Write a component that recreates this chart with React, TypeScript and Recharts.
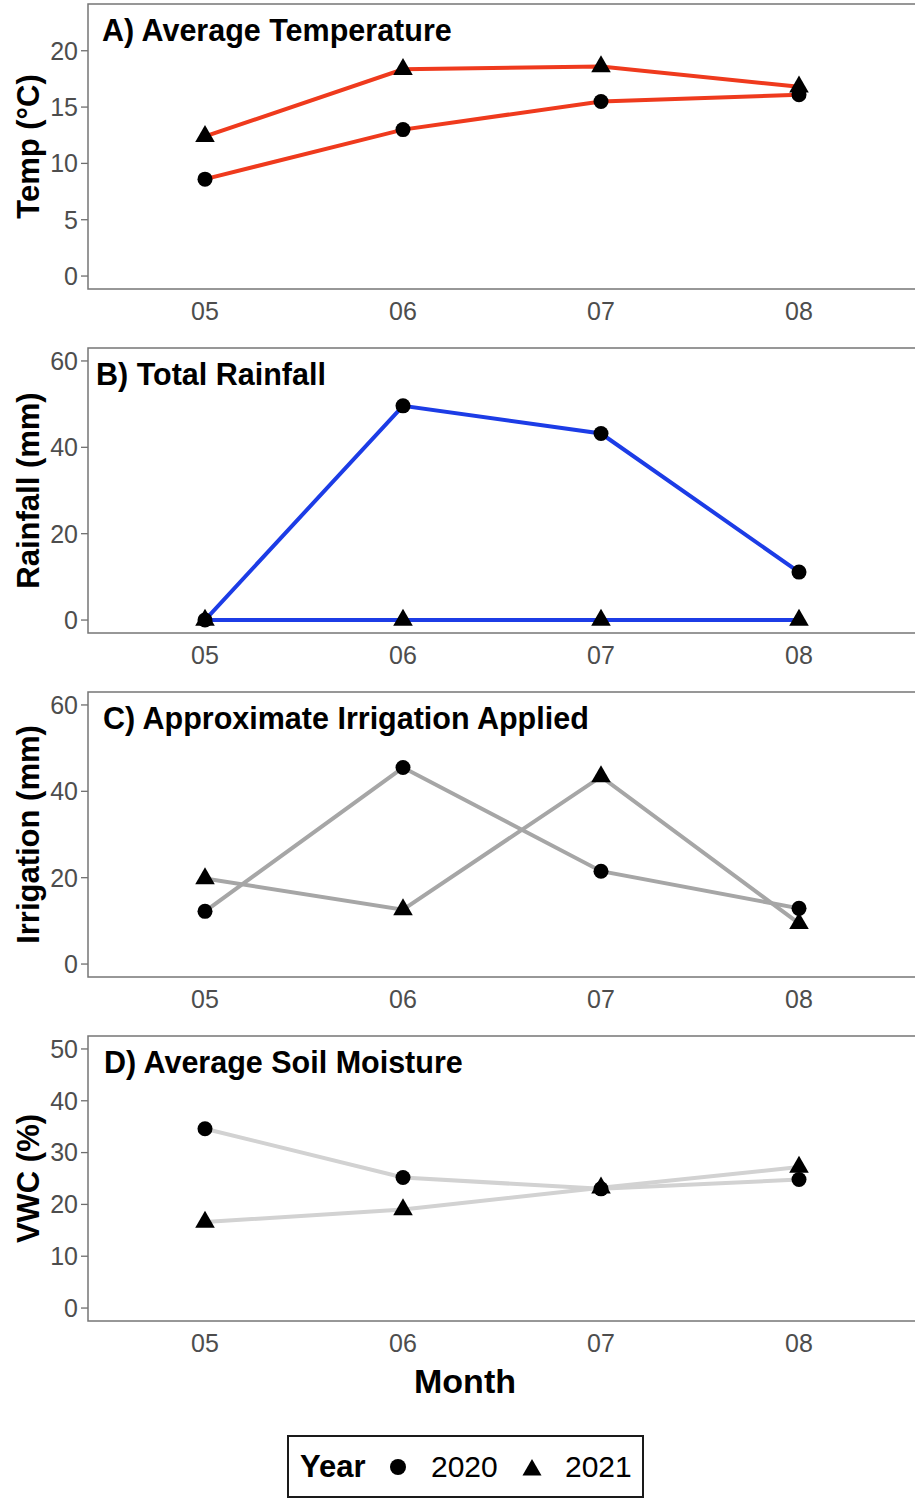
import { LineChart, Line, XAxis, YAxis } from 'recharts';

const MONTHS = ['05', '06', '07', '08'];
const YEARS = ['2020', '2021'];

const TEMP_2020 = [8.6, 13.0, 15.5, 16.1];
const TEMP_2021 = [12.4, 18.35, 18.6, 16.8];
const RAIN_2020 = [0, 49.6, 43.2, 11.1];
const RAIN_2021 = [0, 0, 0, 0];
const IRR_2020 = [12.2, 45.5, 21.5, 12.9];
const IRR_2021 = [19.8, 12.6, 43.4, 9.4];
const VWC_2020 = [34.6, 25.2, 23.0, 24.8];
const VWC_2021 = [16.6, 19.0, 23.2, 27.2];

const FONT = '"Liberation Sans", Arial, Helvetica, sans-serif';

// plot rectangle inside each panel chart
const PLOT = { left: 88, top: 4, width: 828, height: 285 };
const PANEL_STEP = 344;

interface Panel {
    title: string;
    yLabel: string;
    color: string;
    domain: [number, number];
    ticks: number[];
    a: number[]; // 2020
    b: number[]; // 2021
    titleX: number;
}

const PANELS: Panel[] = [
    { title: 'A) Average Temperature', yLabel: 'Temp (°C)', color: '#ef3a1d', domain: [-1.15, 24.15], ticks: [0, 5, 10, 15, 20], a: TEMP_2020, b: TEMP_2021, titleX: 14 },
    { title: 'B) Total Rainfall', yLabel: 'Rainfall (mm)', color: '#1c3ce6', domain: [-3, 63], ticks: [0, 20, 40, 60], a: RAIN_2020, b: RAIN_2021, titleX: 8 },
    { title: 'C) Approximate Irrigation Applied', yLabel: 'Irrigation (mm)', color: '#a6a6a6', domain: [-3, 63], ticks: [0, 20, 40, 60], a: IRR_2020, b: IRR_2021, titleX: 15 },
    { title: 'D) Average Soil Moisture', yLabel: 'VWC (%)', color: '#d2d2d2', domain: [-2.5, 52.5], ticks: [0, 10, 20, 30, 40, 50], a: VWC_2020, b: VWC_2021, titleX: 16 },
];

// ggplot-style triangle (pch 17), centroid on the point
const triPath = (cx: number, cy: number, r: number) => {
    const hw = (r * Math.sqrt(3)) / 2;
    return `M${cx},${cy - r}L${cx + hw},${cy + r / 2}L${cx - hw},${cy + r / 2}Z`;
};

const CircleDot = (props: any) => {
    const { cx, cy, index } = props;
    if (cx == null || cy == null) return null;
    return <circle key={`c-${index}`} cx={cx} cy={cy} r={7.5} fill="#000" />;
};

const TriangleDot = (props: any) => {
    const { cx, cy, index } = props;
    if (cx == null || cy == null) return null;
    return <path key={`t-${index}`} d={triPath(cx, cy, 11.3)} fill="#000" />;
};

function PanelChart({ panel }: { panel: Panel }) {
    const data = MONTHS.map((m, i) => ({ month: m, y2020: panel.a[i], y2021: panel.b[i] }));
    return (
        <div style={{ position: 'relative', width: 930, height: 334 }}>
            <LineChart width={930} height={334} data={data} margin={{ top: PLOT.top, right: 930 - PLOT.left - PLOT.width, bottom: 0, left: 0 }}>
                <XAxis
                    dataKey="month"
                    padding={{ left: 117, right: 117 }}
                    axisLine={false}
                    tickLine={false}
                    tickSize={0}
                    tickMargin={13}
                    height={45}
                    tick={{ fill: '#4d4d4d', fontSize: 25, fontFamily: FONT }}
                />
                <YAxis
                    width={PLOT.left}
                    type="number"
                    domain={panel.domain}
                    ticks={panel.ticks}
                    allowDataOverflow
                    axisLine={false}
                    tickSize={7}
                    tickMargin={3}
                    tickLine={{ stroke: '#6e6e6e', strokeWidth: 1.3 }}
                    tick={{ fill: '#4d4d4d', fontSize: 25, fontFamily: FONT }}
                    label={(p: any) => {
                        const vb = p.viewBox;
                        const x = 28;
                        const y = vb.y + vb.height / 2;
                        return (
                            <text x={x} y={y} transform={`rotate(-90, ${x}, ${y})`} textAnchor="middle" dominantBaseline="central"
                                fontFamily={FONT} fontWeight="bold" fontSize={31} fill="#000">
                                {panel.yLabel}
                            </text>
                        );
                    }}
                />
                <Line dataKey="y2020" stroke={panel.color} strokeWidth={4} dot={false} activeDot={false} isAnimationActive={false} />
                <Line dataKey="y2021" stroke={panel.color} strokeWidth={4} dot={false} activeDot={false} isAnimationActive={false} />
                <Line dataKey="y2020" stroke="none" dot={CircleDot} activeDot={false} isAnimationActive={false} />
                <Line dataKey="y2021" stroke="none" dot={TriangleDot} activeDot={false} isAnimationActive={false} />
            </LineChart>
            {/* panel border + title */}
            <svg
                width={PLOT.width + 2}
                height={PLOT.height + 2}
                style={{ position: 'absolute', left: PLOT.left - 1, top: PLOT.top - 1, pointerEvents: 'none' }}
            >
                <rect x={1} y={1} width={PLOT.width} height={PLOT.height} fill="none" stroke="#767676" strokeWidth={1.5} />
                <text x={1 + panel.titleX} y={1 + 37} fontFamily={FONT} fontWeight="bold" fontSize={30.5} fill="#000">
                    {panel.title}
                </text>
            </svg>
        </div>
    );
}

export default function App() {
    return (
        <div style={{ position: 'absolute', left: 0, top: 0, width: 915, height: 1500, overflow: 'hidden', background: '#fff' }}>
            {PANELS.map((panel, i) => (
                <div key={panel.title} style={{ position: 'absolute', left: 0, top: i * PANEL_STEP }}>
                    <PanelChart panel={panel} />
                </div>
            ))}
            <svg width={915} height={160} style={{ position: 'absolute', left: 0, top: 1340 }}>
                <text x={465} y={53} textAnchor="middle" fontFamily={FONT} fontWeight="bold" fontSize={34} fill="#000">Month</text>
                <rect x={288} y={96} width={355} height={61} fill="#fff" stroke="#1a1a1a" strokeWidth={2} />
                <text x={300} y={137} fontFamily={FONT} fontWeight="bold" fontSize={31} fill="#000">Year</text>
                {YEARS.map((yr, i) => {
                    const ix = 398 + i * 134;
                    return (
                        <g key={yr}>
                            {i === 0
                                ? <circle cx={ix} cy={127} r={8} fill="#000" />
                                : <path d={triPath(ix, 130, 11)} fill="#000" />}
                            <text x={ix + 33} y={137} fontFamily={FONT} fontSize={30} fill="#000">{yr}</text>
                        </g>
                    );
                })}
            </svg>
        </div>
    );
}
